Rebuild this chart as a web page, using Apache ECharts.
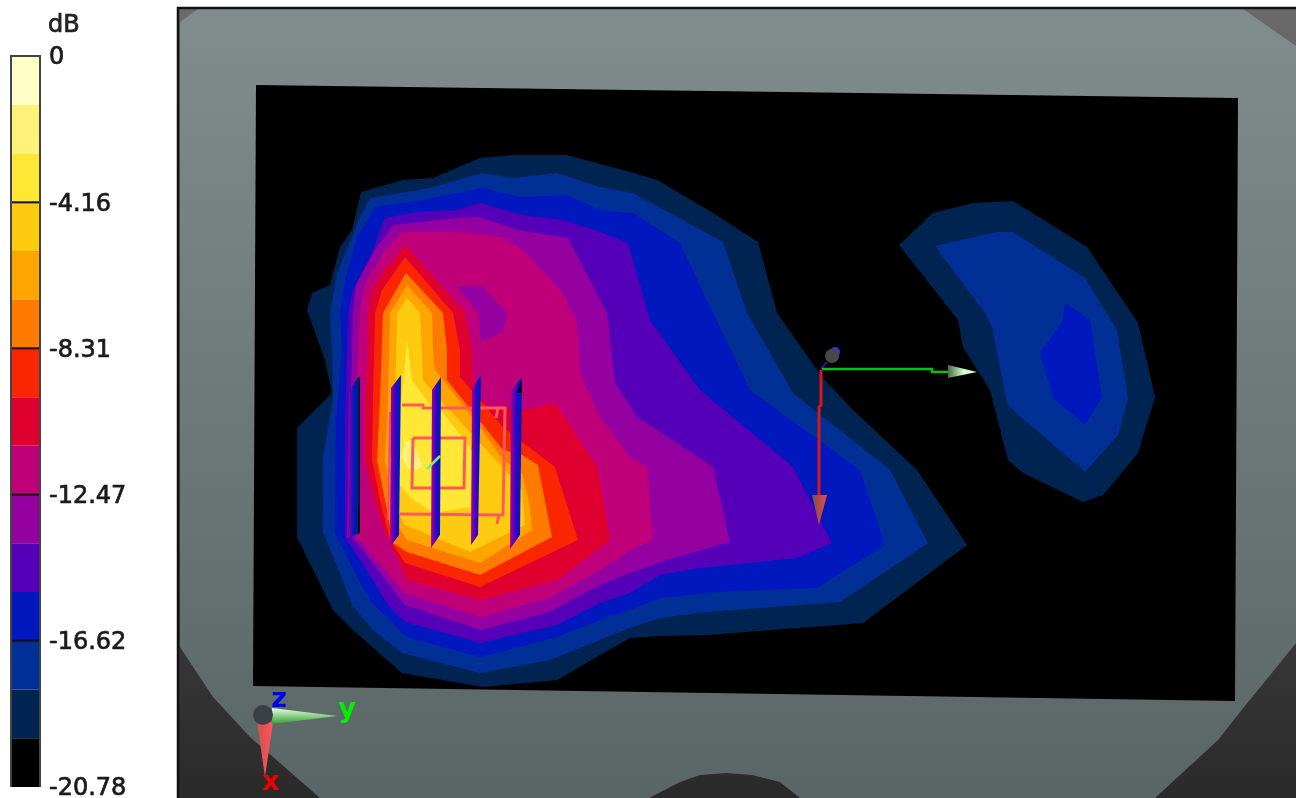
<!DOCTYPE html>
<html><head><meta charset="utf-8">
<style>html,body{margin:0;padding:0;background:#fff}#c{width:1296px;height:798px}</style>
<script src="https://cdn.jsdelivr.net/npm/echarts@6/dist/echarts.min.js"></script>
</head><body><div id="c"></div>
<script>
// Colour scale
const scaleTicks = [0, -4.16, -8.31, -12.47, -16.62, -20.78];
const bandColors = ['#FFFFC8','#FFF27A','#FFE835','#FFCB10','#FFA500','#FF7B00','#F92600','#E00030','#C00078','#9500A0','#5500B8','#0018BE','#002F96','#002452','#000000'];

// Scene outlines
const bodyOutline = [[180,22],[198,9],[1243,9],[1296,46],[1296,643],[1280,663],[1244,707],[1218,740],[1155,798],[800,798],[780,782],[752,775],[727,773],[700,775],[680,782],[649,798],[320,798],[280,763],[250,737],[213,697],[180,647]];
const scanPlane = [[256,85],[1238,98],[1235,701],[253,686]];

// Contours of the main lobe, outermost first (level = index into bandColors)
const lobeA13 = [[307,310],[312,293],[330,285],[340,247],[352,230],[361,192],[403,180],[433,178],[480,158],[513,155],[567,155],[630,172],[657,180],[713,213],[758,242],[777,313],[822,377],[853,410],[917,470],[967,545],[863,623],[707,635],[660,636],[630,638],[600,655],[557,680],[483,687],[402,673],[353,630],[333,610],[297,537],[297,428],[332,393],[325,360]];
const lobeA12 = [[330,313],[337,273],[352,237],[360,217],[370,198],[430,188],[482,173],[513,178],[557,173],[600,187],[633,193],[723,242],[747,313],[793,393],[890,470],[928,543],[840,602],[707,612],[660,618],[630,628],[600,640],[550,660],[480,673],[402,653],[373,630],[352,605],[340,573],[323,533],[323,457],[333,398],[332,350]];
const lobeA11 = [[340,313],[345,280],[357,237],[375,207],[423,200],[482,188],[520,197],[567,195],[600,210],[633,213],[680,243],[713,313],[750,390],[860,470],[885,545],[817,588],[717,592],[660,598],[630,610],[600,620],[557,637],[480,657],[407,637],[372,603],[357,577],[335,533],[336,420],[342,350]];
const lobeA10 = [[348,313],[353,290],[373,250],[385,218],[417,212],[457,210],[480,203],[523,215],[563,220],[600,232],[628,243],[650,320],[700,390],[793,467],[832,543],[797,558],[700,568],[660,575],[630,593],[600,603],[557,625],[480,643],[405,622],[388,605],[362,563],[345,537],[345,420],[347,350]];
const lobeA9 = [[353,313],[356,285],[375,250],[393,225],[457,218],[480,217],[517,230],[568,238],[607,313],[615,383],[637,417],[713,467],[730,542],[667,560],[630,573],[600,585],[550,612],[480,630],[405,605],[393,590],[365,553],[352,537],[350,420],[352,350]];
const lobeA8 = [[360,313],[365,285],[385,250],[403,232],[457,232],[503,237],[523,250],[563,293],[577,323],[580,373],[600,417],[630,457],[647,467],[653,540],[630,550],[600,570],[550,598],[480,617],[405,593],[357,537],[355,420],[358,350]];
const lobeA7 = [[368,313],[372,290],[382,273],[405,245],[465,312],[472,350],[473,393],[490,407],[523,410],[555,403],[597,467],[610,540],[557,580],[480,600],[407,580],[387,537],[377,510],[365,460],[365,420],[367,360]];
const lobeA6 = [[375,313],[382,290],[405,257],[453,313],[460,350],[460,377],[503,427],[522,442],[555,467],[578,540],[480,587],[405,563],[390,540],[380,500],[372,460],[373,400]];
const lobeA5 = [[383,313],[406,273],[443,313],[447,350],[447,380],[503,450],[522,455],[538,465],[552,537],[480,575],[407,552],[393,543],[387,510],[377,460],[380,400]];
const lobeA4 = [[390,313],[407,285],[432,313],[433,350],[435,370],[477,423],[503,460],[522,473],[530,507],[532,530],[480,563],[407,540],[397,525],[385,460],[388,400]];
const lobeA3 = [[397,313],[407,298],[420,313],[422,350],[423,380],[445,405],[505,470],[522,490],[525,525],[470,552],[405,525],[397,510],[390,460],[395,410]];
const lobeA2 = [[407,340],[412,380],[430,405],[443,413],[467,443],[473,453],[470,507],[433,513],[410,497],[398,483],[395,437],[402,395]];
const lobeA1 = [[405,442],[412,440],[423,467],[415,470],[407,467],[402,457]];
const dipA9 = [[456,286],[482,286],[507,313],[503,332],[481,342],[478,313]];

// Contours of the second lobe
const lobeB13 = [[899,245],[933,213],[973,203],[1013,201],[1087,247],[1138,323],[1155,397],[1138,453],[1103,495],[1083,502],[1023,473],[1008,460],[990,390],[963,347],[958,320]];
const lobeB12 = [[935,246],[997,232],[1013,232],[1085,278],[1117,330],[1128,398],[1118,435],[1085,472],[1013,410],[1007,403],[992,327],[985,313]];
const lobeB11 = [[1065,303],[1090,320],[1102,397],[1085,425],[1053,398],[1040,353],[1062,322]];

// Antenna slots
const slot1 = [[358,377],[360,377],[360,533],[347,538],[349,392]];
const slot2 = [[401,375],[399,535],[390,547],[391,388]];
const slot3 = [[441,377],[440,535],[431,548],[432,390]];
const slot4 = [[481,375],[478,535],[471,545],[472,390]];
const slot5 = [[522,377],[520,535],[510,549],[511,392]];
const slotTip1b = [[358,505],[360,505],[360,533],[358,534]];
const slotTip5 = [[522,377],[522,393],[517,393]];

// Antenna traces
const traceOuter = [[[402,405],[423,405],[423,408],[505,408],[503,515],[400,514]],[[498,408],[496,418]],[[499,515],[497,524]]];
const traceEdge = [[390,412],[388,520]];
const traceInner = [[413,438],[465,438],[464,488],[412,488],[413,438]];
const feedLine = [[427,469],[440,456]];

// Origin triad
const originX = [[[821,370],[821,405],[819,407],[819,495]]];
const originY = [[[822,369],[932,369],[932,372],[948,372]]];
const originZ = [[[821,369],[827,362]]];
const coneX = [[812,495],[827,495],[819,525]];
const coneY = [[948,365],[977,372],[948,378]];

// Corner triad
const triadConeX = [[257,722],[273,722],[265,777]];
const triadConeY = [[272,708],[337,716],[272,724]];
const triadLabels = [['z',279,700,'#0000EE'],['y',347,710,'#00EE00'],['x',271,783,'#EE0000']];

const G = (c0, c1, x2, y2) => new echarts.graphic.LinearGradient(0,0,x2,y2,[{offset:0,color:c0},{offset:1,color:c1}]);
const slotFill = () => new echarts.graphic.LinearGradient(0,0,1,0,[{offset:0,color:'#A800A0'},{offset:0.5,color:'#3A00C0'},{offset:0.75,color:'#0018C8'},{offset:1,color:'#0018A8'}]);
const slotFillEdge = () => new echarts.graphic.LinearGradient(0,0,1,0,[{offset:0,color:'#A000A0'},{offset:0.55,color:'#0018C0'},{offset:0.85,color:'#002070'},{offset:1,color:'#001030'}]);
const sceneAxes = {xAxisIndex:0, yAxisIndex:0};

function poly(name, pts, fill, z) {
  return Object.assign({
    type:'custom', name, silent:true, clip:false, z:z||2, data:pts, encode:{x:0,y:1},
    renderItem:(p,api)=> p.dataIndex!==0 ? null : {
      type:'polygon', shape:{points:pts.map(q=>api.coord(q))}, style:{fill}
    }
  }, sceneAxes);
}
function lines(name, paths, stroke, width, z) {
  const flat = paths.map((path,i)=>[path[0][0],path[0][1],i]);
  return Object.assign({
    type:'custom', name, silent:true, clip:false, z:z||4, data:flat, encode:{x:0,y:1},
    renderItem:(p,api)=>({
      type:'polyline', shape:{points:paths[p.dataIndex].map(q=>api.coord(q))},
      style:{fill:null, stroke, lineWidth:width, lineJoin:'miter'}
    })
  }, sceneAxes);
}
function dot(name, x, y, r, fill, z){
  return Object.assign({type:'custom',name,silent:true,clip:false,z:z||5,data:[[x,y]],encode:{x:0,y:1},
    renderItem:(p,api)=>{const c=api.coord([x,y]);return {type:'circle',shape:{cx:c[0],cy:c[1],r},style:{fill}};}
  },sceneAxes);
}

const contourLayers = [
  [lobeA13,13],[lobeB13,13],[lobeA12,12],[lobeB12,12],[lobeA11,11],[lobeB11,11],
  [lobeA10,10],[lobeA9,9],[lobeA8,8],[dipA9,9],[lobeA7,7],[lobeA6,6],[lobeA5,5],[lobeA4,4],[lobeA3,3],[lobeA2,2],[lobeA1,1]
];
const series = [
  poly('scene',[[178,8],[1296,8],[1296,798],[178,798]],G('#6a6a6a','#2a2a2a',0,1),1),
  poly('body',bodyOutline,G('#808d8c','#5a6665',0,1),1),
  poly('plane',scanPlane,'#000000',1)
];
contourLayers.forEach((l,i)=>series.push(poly('contour'+i,l[0],bandColors[l[1]],2)));
series.push(lines('traceEdge',[traceEdge],'#E8507A',2,3));
series.push(lines('traceOuter',traceOuter,'#FF5A5A',3,3));
series.push(lines('traceInner',[traceInner],'#FF5A5A',3,3));
[slot1,slot2,slot3,slot4,slot5].forEach((s,i)=>{
  series.push(poly('slot'+i,s,i===0?slotFillEdge():slotFill(),4));
});
series.push(poly('slotTip1b',slotTip1b,'#000818',4));
series.push(poly('slotTip5',slotTip5,'#000830',4));
series.push(lines('feed',[feedLine],'#70F080',2.5,5));
series.push(lines('axisZ',originZ,'#2020E0',1.5,5));
series.push(dot('originDotBlue',835,352,5,'#3535D0',5));
series.push(dot('originDot',832,356,7,'#484848',6));
series.push(lines('axisX',originX,'#D81818',3,5));
series.push(lines('axisY',originY,'#00C800',2.5,5));
series.push(poly('coneX',coneX,G('#70504a','#F04848',1,0),6));
series.push(poly('coneY',coneY,G('#4a6a4a','#D8FFD0',0.55,0),6));
series.push(poly('triadConeX',triadConeX,G('#D05050','#FF5555',1,0),6));
series.push(poly('triadConeY',triadConeY,G('#E8FFE0','#30A030',0,1),6));
series.push(dot('triadDot',263,715,10,'#3D3F48',7));
series.push(Object.assign({
  type:'custom',name:'triadText',silent:true,clip:false,z:8,data:triadLabels.map(t=>[t[1],t[2]]),encode:{x:0,y:1},
  renderItem:(p,api)=>{const t=triadLabels[p.dataIndex];const c=api.coord([t[1],t[2]]);
    return {type:'text',x:c[0],y:c[1],style:{text:t[0],fill:t[3],font:'bold 27px "DejaVu Sans"',align:'center',verticalAlign:'middle'}};}
},sceneAxes));

// Colour bar
const bandStep = 20.78/bandColors.length;
const bandData = bandColors.map((c,i)=>[0,-i*bandStep,-(i+1)*bandStep,c]);
series.push({
  type:'custom',name:'colorbar',xAxisIndex:1,yAxisIndex:1,silent:true,z:2,data:bandData,encode:{x:0,y:[1,2]},
  renderItem:(p,api)=>{
    const a=api.coord([0,api.value(1)]),b=api.coord([1,api.value(2)]);
    return {type:'rect',shape:{x:a[0],y:a[1],width:b[0]-a[0],height:b[1]-a[1]},style:{fill:bandColors[p.dataIndex]}};
  }
});
series.push({
  type:'custom',name:'colorbarTicks',xAxisIndex:1,yAxisIndex:1,silent:true,z:3,clip:false,data:scaleTicks.map(v=>[0,v]),encode:{x:0,y:1},
  renderItem:(p,api)=>{
    const v=api.value(1), a=api.coord([0,v]), b=api.coord([1,v]);
    const children=[{type:'text',x:b[0]+9,y:a[1]+2,style:{text:String(v),fill:'#1a1a1a',stroke:'#1a1a1a',lineWidth:0.7,font:'24px "DejaVu Sans"',align:'left',verticalAlign:'middle'}}];
    if(v!==-20.78) children.push({type:'line',shape:{x1:a[0],y1:a[1],x2:b[0]+1,y2:a[1]},style:{stroke:v===0?'#333':'#111',lineWidth:2}});
    return {type:'group',children};
  }
});

const option = {
  animation:false, backgroundColor:'#ffffff',
  title:{text:'dB',left:43,top:9,textStyle:{fontFamily:'DejaVu Sans',fontSize:24,fontWeight:'normal',color:'#222',textBorderColor:'#222',textBorderWidth:0.7}},
  grid:[
    {left:0,top:0,width:1296,height:798},
    {left:11,top:56,width:29,height:731}
  ],
  xAxis:[
    {type:'value',min:0,max:1296,show:false,gridIndex:0},
    {type:'value',min:0,max:1,show:false,gridIndex:1}
  ],
  yAxis:[
    {type:'value',min:0,max:798,inverse:true,show:false,gridIndex:0},
    {type:'value',min:-20.78,max:0,gridIndex:1,show:false}
  ],
  series
};
const chart = echarts.init(document.getElementById('c'),null,{renderer:'canvas',width:1296,height:798});
chart.setOption(option);
// frame lines of the bar and the scene
chart.setOption({graphic:[
  {type:'polyline',silent:true,z:20,shape:{points:[[11,787],[11,56],[40,56],[40,787]]},style:{fill:null,stroke:'#444',lineWidth:2}},
  {type:'polyline',silent:true,z:20,shape:{points:[[178,798],[178,8],[1296,8]]},style:{fill:null,stroke:'#111',lineWidth:2.5}}
]});
</script></body></html>
